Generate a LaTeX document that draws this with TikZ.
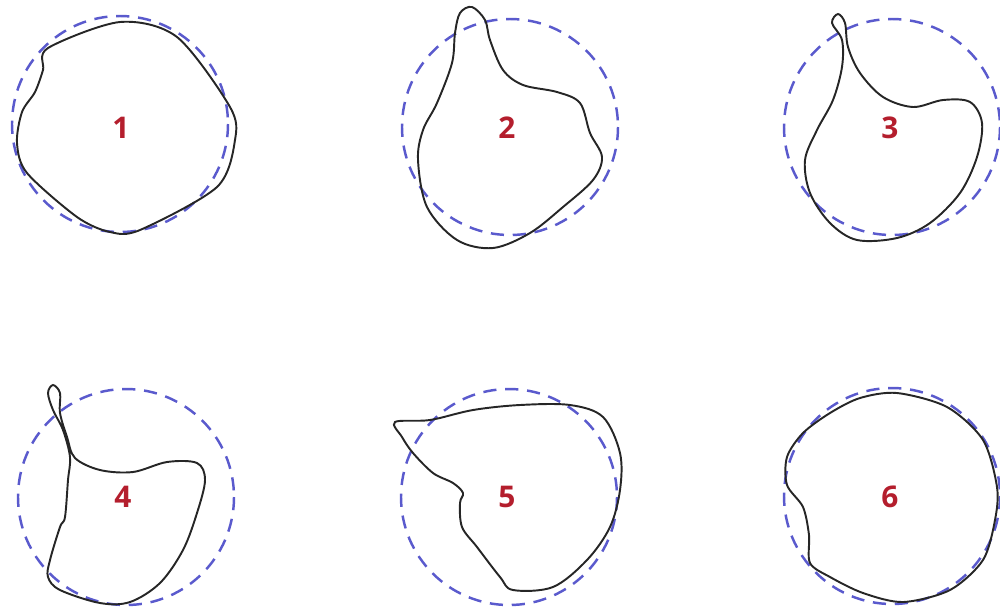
\documentclass[tikz,border=0pt]{standalone}
\usepackage{fontspec}
\setsansfont{Open Sans}
\definecolor{ringblue}{RGB}{90,90,205}
\definecolor{numred}{RGB}{180,30,45}

\begin{document}
\begin{tikzpicture}[x=0.02cm, y=-0.02cm,
	every node/.style={font=\sffamily\bfseries\fontsize{17}{20}\selectfont, text=numred},
	ring/.style={draw=ringblue, dash pattern=on 7.5pt off 5pt, line width=1.4pt},
	outline/.style={draw=black!85, line width=1.1pt}]
	\useasboundingbox (0,0) rectangle (1000,610);
	\foreach \i/\cx/\cy/\lx/\ly in {1/120/124/121/128, 2/510/127/507/128, 3/892/127/890/128, 4/126/497/123/497, 5/509/497/507/497, 6/892/496/890/497} {
		\draw[ring] (\cx,\cy) circle[radius=108];
		\node (n\i) at (\lx,\ly) {\i};
	}
	% 1
	\draw[outline] plot[smooth cycle, tension=0.5] coordinates {(48,48) (120,22) (177,37) (230,107) (235,140) (217,187) (140,230) (110,232) (77,217) (27,173) (17,143) (22,112) (35,92) (43,70)};
	% 2
	\draw[outline] plot[smooth cycle, tension=0.55] coordinates {(472,7) (485,20) (490,40) (503,70) (523,85) (557,92) (580,103) (590,133) (602,157) (593,180) (563,207) (530,233) (493,248) (457,240) (427,207) (418,160) (423,130) (437,103) (452,63) (455,33) (460,13)};
	% 3
	\draw[outline] plot[smooth cycle, tension=0.55] coordinates {(838,14) (845,23) (848,47) (860,73) (883,97) (913,107) (943,100) (970,102) (982,123) (977,157) (960,193) (930,223) (897,238) (857,240) (830,223) (810,193) (805,160) (817,130) (833,100) (842,67) (842,40) (832,23)};
	% 4
	\draw[outline] plot[smooth cycle, tension=0.55] coordinates {(53,385) (60,393) (60,413) (67,437) (75,458) (100,470) (133,472) (167,462) (197,463) (205,480) (197,513) (183,550) (160,583) (130,602) (100,603) (60,590) (48,577) (50,560) (60,527) (65,517) (68,480) (70,457) (63,430) (53,410) (48,393)};
	% 5
	\draw[outline] plot[smooth cycle, tension=0.55] coordinates {(395,422) (430,420) (473,410) (520,405) (570,405) (603,417) (620,453) (620,490) (610,527) (587,560) (553,587) (513,590) (500,577) (477,547) (462,527) (460,503) (463,493) (453,483) (433,473) (413,453) (402,437)};
	% 6
	\draw[outline] plot[smooth cycle, tension=0.5] coordinates {(897,393) (947,407) (983,440) (997,487) (995,520) (983,560) (950,590) (903,602) (863,593) (830,577) (810,563) (809,535) (803,507) (787,485) (787,457) (803,433) (830,413) (860,398)};
\end{tikzpicture}
\end{document}
